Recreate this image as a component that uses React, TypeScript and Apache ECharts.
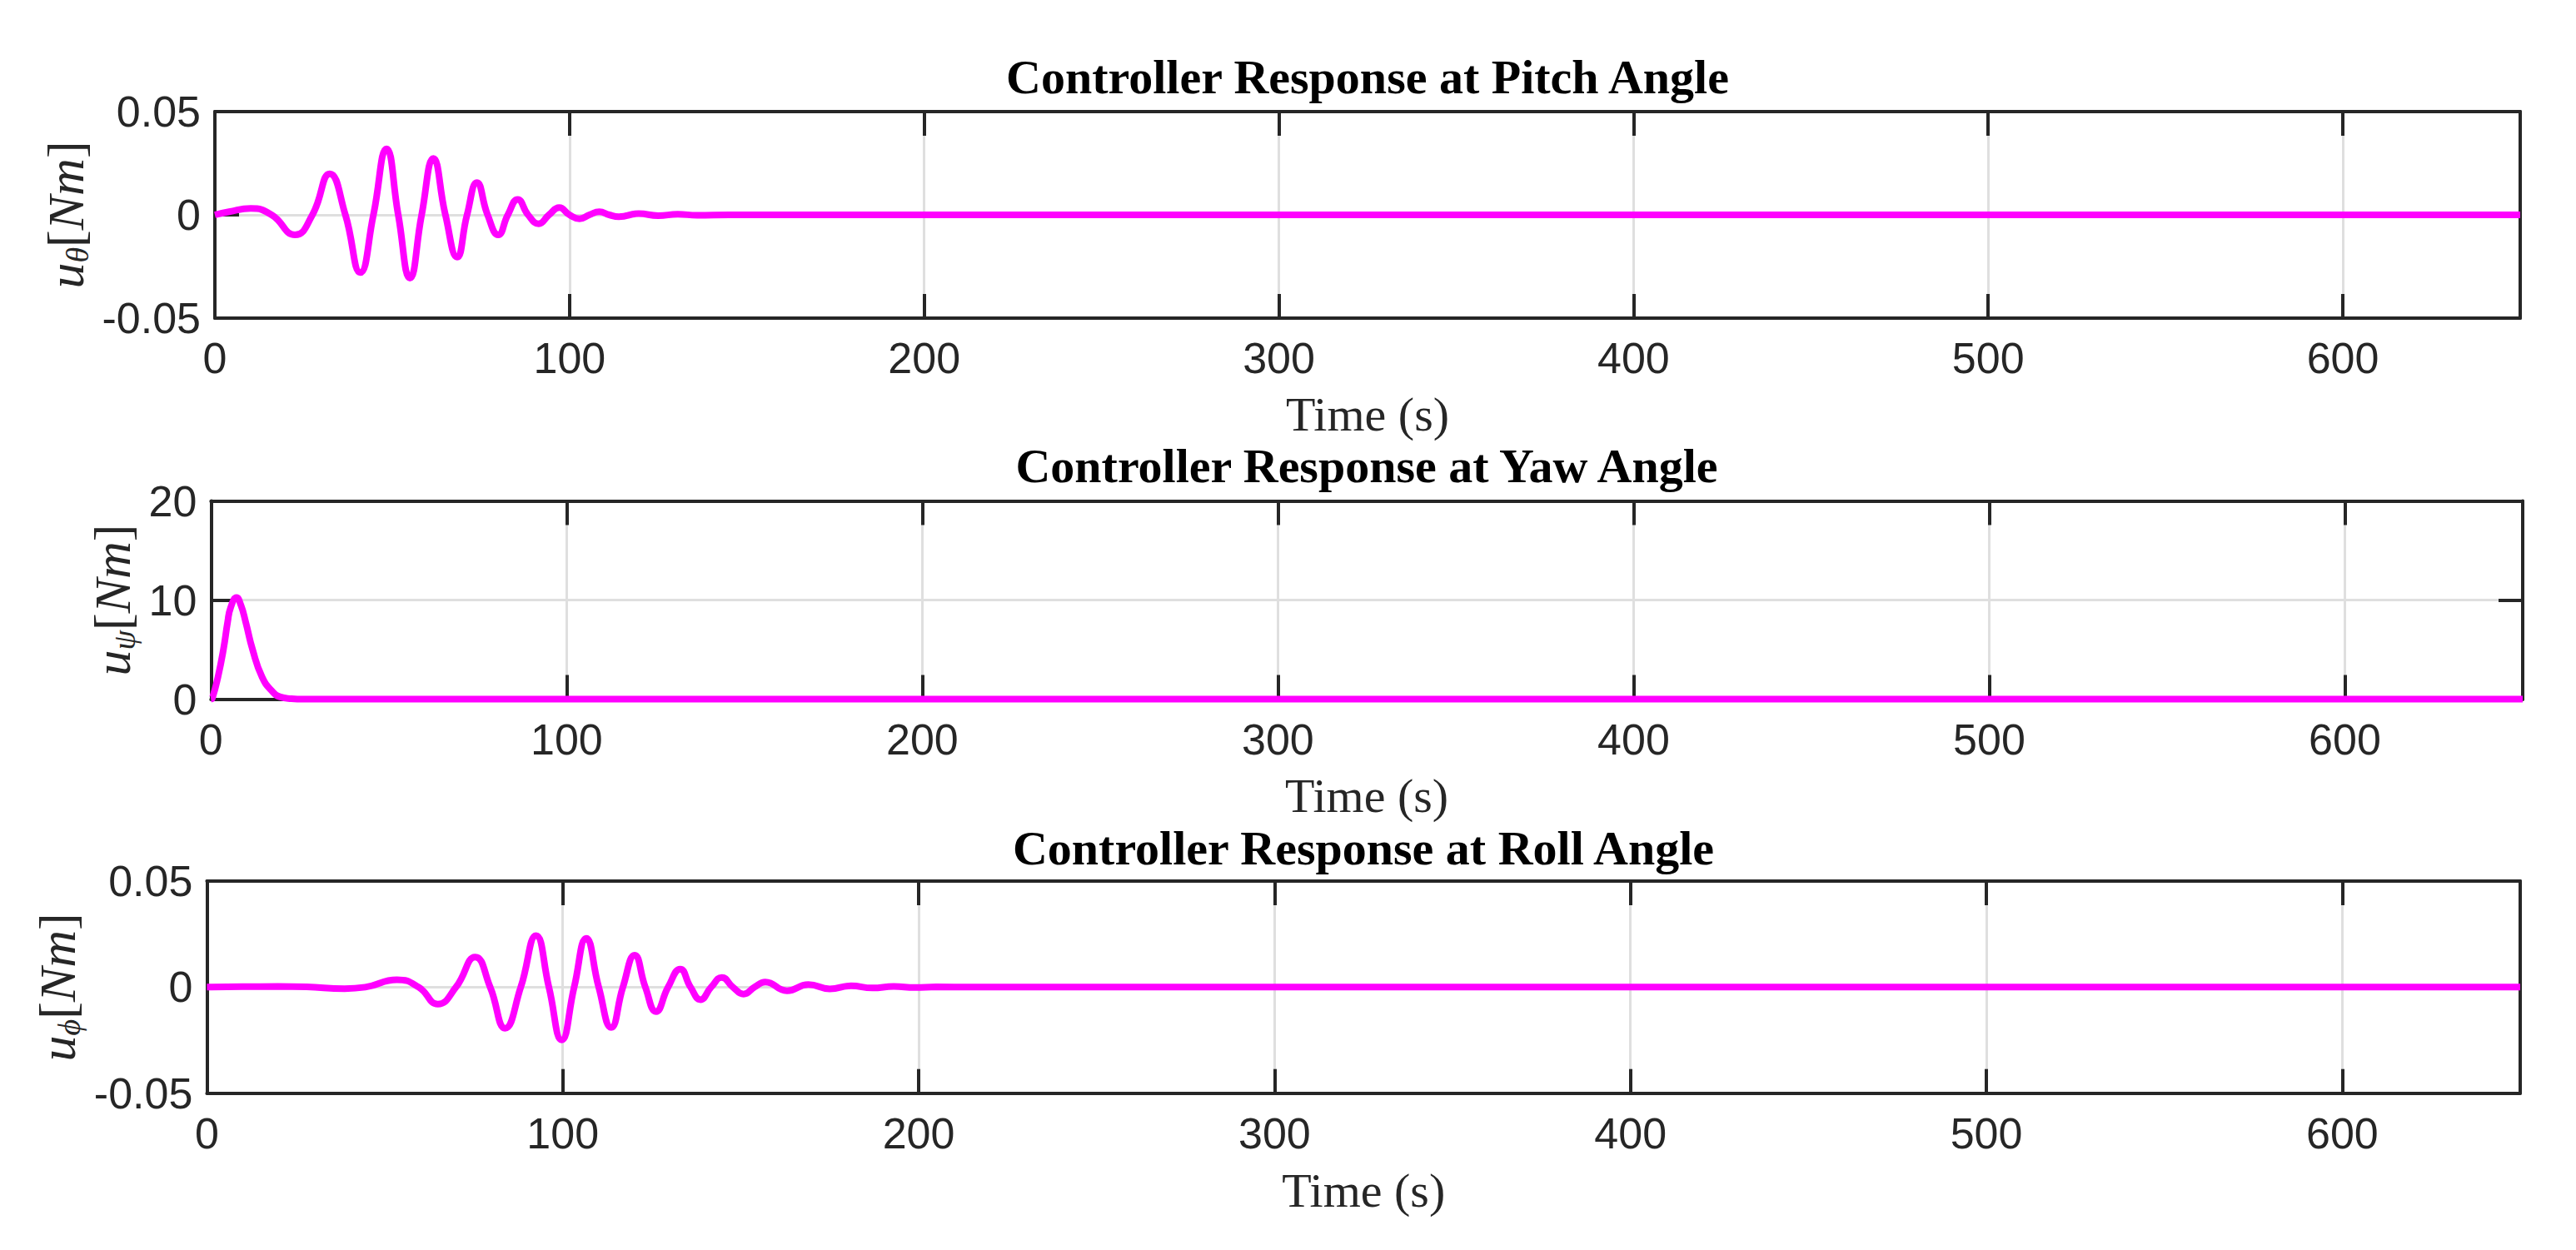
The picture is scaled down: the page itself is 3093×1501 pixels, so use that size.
import React, { useEffect, useRef } from 'react';
import * as echarts from 'echarts';

// ---------- data ----------
const TITLES = [
  'Controller Response at Pitch Angle',
  'Controller Response at Yaw Angle',
  'Controller Response at Roll Angle',
];
const X_NAME = 'Time (s)';
const Y_SUBS = ['θ', 'ψ', 'ϕ'];
const X_RANGE = [0, 650];
const X_STEP = 100;
const Y_RANGES = [
  [-0.05, 0.05],
  [0, 20],
  [-0.05, 0.05],
];
const Y_STEPS = [0.05, 10, 0.05];

const pitchT = [0, 4, 10.1, 16, 22.6, 27.5, 32.4, 36.8, 41, 44.7, 48.4, 51.7, 55, 58.3, 61.6, 65, 68.3, 71.1, 73.9, 76.9, 79.9, 82.6, 85.4, 88.3, 91.3, 94.2, 97.1, 100, 102.8, 105.6, 108.4, 111.2, 113.9, 119.5, 125, 130.5, 136, 145, 650];
const pitchU = [0, 0.0015, 0.0031, 0, -0.0097, 0, 0.0199, 0, -0.0279, 0, 0.032, 0, -0.0306, 0, 0.0273, 0, -0.0205, 0, 0.0156, 0, -0.0097, 0, 0.0075, 0, -0.0043, 0, 0.0035, 0, -0.0019, 0, 0.0015, 0, -0.0009, 0.0006, -0.0004, 0.0003, -0.0002, 0, 0];

const yawT = [0, 0.4, 1.95, 3.5, 4.7, 5.5, 7.2, 8.4, 9.75, 11.7, 14.4, 17.2, 19.5, 22.6, 26, 650];
const yawU = [0, 0.1, 2.2, 5.0, 7.8, 9.2, 10.25, 9.5, 7.8, 5.0, 2.2, 0.8, 0.22, 0.05, 0, 0];

const rollT = [0, 10, 20, 28, 38.7, 44.5, 53.4, 59.5, 64.9, 70, 75.4, 79.6, 83.8, 88.2, 92.5, 96.1, 99.7, 103.2, 106.6, 110.1, 113.6, 116.9, 120.2, 123.2, 126.2, 129.6, 133, 135.9, 138.7, 141.7, 144.7, 147.8, 150.8, 153.9, 156.9, 163, 169, 175, 181, 187, 193, 199, 205, 215, 650];
const rollU = [0, 0.0002, 0.0003, 0.0001, -0.0007, 0, 0.0035, 0, -0.008, 0, 0.0142, 0, -0.0194, 0, 0.0243, 0, -0.0249, 0, 0.023, 0, -0.019, 0, 0.0151, 0, -0.0115, 0, 0.0085, 0, -0.0059, 0, 0.0046, 0, -0.0033, 0, 0.0024, -0.0017, 0.0012, -0.0008, 0.0006, -0.0004, 0.0003, -0.0002, 0.0001, 0, 0];

const SERIES_T = [pitchT, yawT, rollT];
const SERIES_U = [pitchU, yawU, rollU];

// ---------- layout ----------
const LAYOUT = [
  { left: 258, right: 67, top: 134, height: 248, yNameGap: 145, xNameGap: 95, titleX: 1642, titleY: 92 },
  { left: 253.3, right: 64, top: 601.5, height: 238, yNameGap: 84, xNameGap: 96, titleX: 1641, titleY: 559 },
  { left: 248.4, right: 67, top: 1058, height: 254.7, yNameGap: 144, xNameGap: 97, titleX: 1637, titleY: 1018 },
];

const INK = '#262626';
const GRID_GRAY = '#dfdfdf';
const LINE = '#ff00ff';
const SANS = 'Liberation Sans';
const SERIF = 'Liberation Serif';

function fmtY(v: number) {
  if (Math.abs(v) < 1e-12) return '0';
  if (Math.abs(v) >= 1) return String(Math.round(v));
  return v.toFixed(2);
}

function buildOption() {
  const grid: any[] = [];
  const xAxis: any[] = [];
  const yAxis: any[] = [];
  const series: any[] = [];
  const graphic: any[] = [];

  LAYOUT.forEach((L, gi) => {
    grid.push({ left: L.left, right: L.right, top: L.top, height: L.height, containLabel: false });
    const xBase = { gridIndex: gi, type: 'value', min: X_RANGE[0], max: X_RANGE[1], interval: X_STEP };
    const [ymin, ymax] = Y_RANGES[gi];
    const yBase = { gridIndex: gi, type: 'value', min: ymin, max: ymax, interval: Y_STEPS[gi] };
    const lineStyle = { color: INK, width: 4 };
    const tick = { show: true, inside: true, length: 29, lineStyle: { color: INK, width: 4 } };
    const xMain = xAxis.length;
    xAxis.push({
      ...xBase,
      position: 'bottom',
      z: 1,
      axisLine: { show: true, onZero: false, lineStyle },
      axisTick: tick,
      axisLabel: { show: true, margin: 26, color: INK, fontSize: 52, lineHeight: 44, fontFamily: SANS, showMaxLabel: false },
      splitLine: { show: false },
      name: X_NAME,
      nameLocation: 'middle',
      nameGap: L.xNameGap,
      nameTextStyle: { fontFamily: SERIF, fontSize: 58, lineHeight: 40, color: INK },
    });
    xAxis.push({
      ...xBase,
      position: 'top',
      z: 1,
      axisLine: { show: true, onZero: false, lineStyle },
      axisTick: tick,
      axisLabel: { show: false },
      splitLine: { show: false },
    });
    xAxis.push({
      ...xBase,
      position: 'bottom',
      z: 0,
      axisLine: { show: false },
      axisTick: { show: false },
      axisLabel: { show: false },
      splitLine: { show: true, lineStyle: { color: GRID_GRAY, width: 3 } },
    });

    const yMain = yAxis.length;
    const sub = Y_SUBS[gi];
    yAxis.push({
      ...yBase,
      position: 'left',
      z: 1,
      axisLine: { show: true, onZero: false, lineStyle },
      axisTick: tick,
      axisLabel: { show: true, margin: 17, color: INK, fontSize: 52, fontFamily: SANS, formatter: fmtY },
      splitLine: { show: false },
      name: `{i|u}{s|${sub}}{b|[}{i|Nm}{b|]}`,
      nameLocation: 'middle',
      nameRotate: 90,
      nameGap: L.yNameGap,
      nameTextStyle: {
        color: INK,
        rich: {
          i: { fontFamily: SERIF, fontStyle: 'italic', fontSize: 62, lineHeight: 62, color: INK, verticalAlign: 'top' },
          s: { fontFamily: SERIF, fontStyle: 'italic', fontSize: 38, lineHeight: 38, color: INK, verticalAlign: 'top', padding: [26, 0, 0, 0] },
          b: { fontFamily: SERIF, fontSize: 62, lineHeight: 62, color: INK, verticalAlign: 'top' },
        },
      },
    });
    yAxis.push({
      ...yBase,
      position: 'right',
      z: 1,
      axisLine: { show: true, onZero: false, lineStyle },
      axisTick: tick,
      axisLabel: { show: false },
      splitLine: { show: false },
    });
    yAxis.push({
      ...yBase,
      position: 'left',
      z: 0,
      axisLine: { show: false },
      axisTick: { show: false },
      axisLabel: { show: false },
      splitLine: { show: true, lineStyle: { color: GRID_GRAY, width: 3 } },
    });

    const T = SERIES_T[gi];
    const U = SERIES_U[gi];
    series.push({
      type: 'line',
      xAxisIndex: xMain,
      yAxisIndex: yMain,
      data: T.map((t, i) => [t, U[i]]),
      showSymbol: false,
      symbol: 'none',
      smooth: 0.5,
      clip: false,
      z: 3,
      lineStyle: { color: LINE, width: 8 },
    });

    graphic.push({
      type: 'text',
      x: L.titleX,
      y: L.titleY,
      z: 10,
      style: {
        text: TITLES[gi],
        fill: '#000',
        fontFamily: SERIF,
        fontWeight: 'bold',
        fontSize: 58,
        lineHeight: 40,
        textAlign: 'center',
        textVerticalAlign: 'middle',
      },
    });
  });

  return {
    animation: false,
    backgroundColor: '#ffffff',
    grid,
    xAxis,
    yAxis,
    series,
    graphic,
  };
}

export default function App() {
  const ref = useRef<HTMLDivElement | null>(null);
  useEffect(() => {
    if (!ref.current) return;
    const chart = echarts.init(ref.current, undefined, { renderer: 'svg' });
    chart.setOption(buildOption() as any);
    return () => {
      chart.dispose();
    };
  }, []);
  return (
    <div
      ref={ref}
      style={{ position: 'absolute', left: 0, top: 0, width: 3093, height: 1501, background: '#fff' }}
    />
  );
}
